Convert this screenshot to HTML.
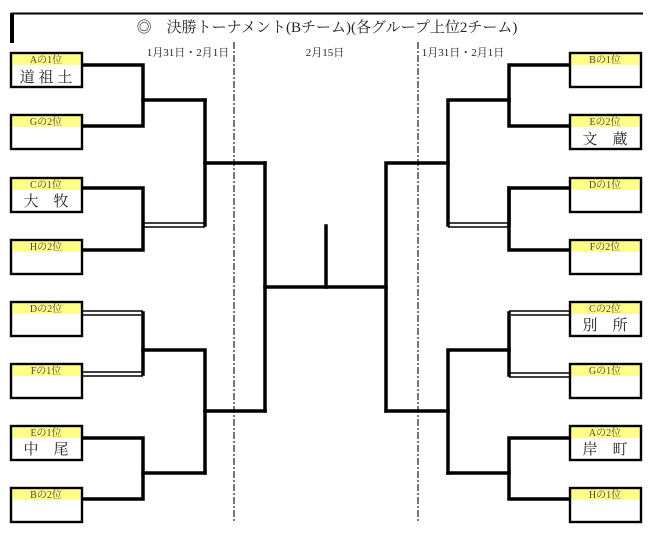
<!DOCTYPE html>
<html><head><meta charset="utf-8"><style>
html,body{margin:0;padding:0;background:#fff;}
svg{display:block;}
text{font-family:"Liberation Serif","Noto Serif CJK SC",serif;}
</style></head><body>
<svg width="653" height="539" viewBox="0 0 653 539" xmlns="http://www.w3.org/2000/svg">
<line x1="11" y1="13.5" x2="643" y2="13.5" stroke="#000" stroke-width="2"/>
<line x1="12" y1="13" x2="12" y2="43" stroke="#000" stroke-width="4"/>
<text x="327" y="32" font-size="15" text-anchor="middle" fill="#222">◎　決勝トーナメント(Bチーム)(各グループ上位2チーム)</text>
<text x="188" y="56" font-size="11" text-anchor="middle" fill="#222">1月31日・2月1日</text>
<text x="325" y="56" font-size="11" text-anchor="middle" fill="#222">2月15日</text>
<text x="463" y="56" font-size="11" text-anchor="middle" fill="#222">1月31日・2月1日</text>
<line x1="234" y1="42" x2="234" y2="521" stroke="#777" stroke-width="2" stroke-dasharray="7,2,2,2"/>
<line x1="418" y1="42" x2="418" y2="521" stroke="#777" stroke-width="2" stroke-dasharray="7,2,2,2"/>
<g stroke="#000" stroke-width="3.5" fill="none" stroke-linecap="square">
<polyline points="82,65 143,65 143,126 82,126"/>
<polyline points="143,100 205,100"/>
<polyline points="82,188 143,188 143,250 82,250"/>
<polyline points="205,100 205,225"/>
<polyline points="205,163 265,163"/>
<polyline points="143,313 143,374"/>
<polyline points="143,350 205,350 205,473"/>
<polyline points="82,438 143,438 143,499 82,499"/>
<polyline points="143,473 205,473"/>
<polyline points="205,411 265,411"/>
<polyline points="265,163 265,411"/>
<polyline points="265,287 386,287"/>
<polyline points="326,226 326,287"/>
<polyline points="570,65 509,65 509,126 570,126"/>
<polyline points="509,100 448,100 448,225"/>
<polyline points="570,188 509,188 509,250 570,250"/>
<polyline points="509,188 509,225"/>
<polyline points="448,163 386,163 386,411"/>
<polyline points="509,313 509,375"/>
<polyline points="509,350 448,350 448,473"/>
<polyline points="570,438 509,438 509,499 570,499"/>
<polyline points="509,473 448,473"/>
<polyline points="448,411 386,411"/>
</g>
<g stroke="#000" stroke-width="1.5">
<line x1="143" y1="223" x2="205" y2="223"/><line x1="143" y1="227" x2="205" y2="227"/>
<line x1="82" y1="311" x2="143" y2="311"/><line x1="82" y1="315" x2="141" y2="315"/>
<line x1="82" y1="372" x2="143" y2="372"/><line x1="82" y1="376" x2="143" y2="376"/>
<line x1="448" y1="223" x2="509" y2="223"/><line x1="448" y1="227" x2="509" y2="227"/>
<line x1="509" y1="311" x2="570" y2="311"/><line x1="511" y1="315" x2="570" y2="315"/>
<line x1="509" y1="373" x2="570" y2="373"/><line x1="509" y1="377" x2="570" y2="377"/>
</g>
<g stroke="#000" stroke-width="2.4">
<rect x="11" y="53" width="71" height="34" fill="#fff"/>
<rect x="11" y="115" width="71" height="34" fill="#fff"/>
<rect x="11" y="178" width="71" height="34" fill="#fff"/>
<rect x="11" y="240" width="71" height="34" fill="#fff"/>
<rect x="11" y="302" width="71" height="34" fill="#fff"/>
<rect x="11" y="364" width="71" height="34" fill="#fff"/>
<rect x="11" y="426" width="71" height="34" fill="#fff"/>
<rect x="11" y="488" width="71" height="34" fill="#fff"/>
<rect x="570" y="53" width="71" height="34" fill="#fff"/>
<rect x="570" y="115" width="71" height="34" fill="#fff"/>
<rect x="570" y="178" width="71" height="34" fill="#fff"/>
<rect x="570" y="240" width="71" height="34" fill="#fff"/>
<rect x="570" y="302" width="71" height="34" fill="#fff"/>
<rect x="570" y="364" width="71" height="34" fill="#fff"/>
<rect x="570" y="426" width="71" height="34" fill="#fff"/>
<rect x="570" y="488" width="71" height="34" fill="#fff"/>
</g>
<g fill="#ffff88">
<rect x="12.5" y="54.5" width="68" height="10.5"/>
<rect x="12.5" y="116.5" width="68" height="10.5"/>
<rect x="12.5" y="179.5" width="68" height="10.5"/>
<rect x="12.5" y="241.5" width="68" height="10.5"/>
<rect x="12.5" y="303.5" width="68" height="10.5"/>
<rect x="12.5" y="365.5" width="68" height="10.5"/>
<rect x="12.5" y="427.5" width="68" height="10.5"/>
<rect x="12.5" y="489.5" width="68" height="10.5"/>
<rect x="571.5" y="54.5" width="68" height="10.5"/>
<rect x="571.5" y="116.5" width="68" height="10.5"/>
<rect x="571.5" y="179.5" width="68" height="10.5"/>
<rect x="571.5" y="241.5" width="68" height="10.5"/>
<rect x="571.5" y="303.5" width="68" height="10.5"/>
<rect x="571.5" y="365.5" width="68" height="10.5"/>
<rect x="571.5" y="427.5" width="68" height="10.5"/>
<rect x="571.5" y="489.5" width="68" height="10.5"/>
</g>
<g font-size="10" fill="#444" text-anchor="middle">
<text x="46" y="63">Aの1位</text>
<text x="46" y="125">Gの2位</text>
<text x="46" y="188">Cの1位</text>
<text x="46" y="250">Hの2位</text>
<text x="46" y="312">Dの2位</text>
<text x="46" y="374">Fの1位</text>
<text x="46" y="436">Eの1位</text>
<text x="46" y="498">Bの2位</text>
<text x="605" y="63">Bの1位</text>
<text x="605" y="125">Eの2位</text>
<text x="605" y="188">Dの1位</text>
<text x="605" y="250">Fの2位</text>
<text x="605" y="312">Cの2位</text>
<text x="605" y="374">Gの1位</text>
<text x="605" y="436">Aの2位</text>
<text x="605" y="498">Hの1位</text>
</g>
<g font-size="15" fill="#222" text-anchor="middle" style="font-family:'Noto Sans CJK JP',sans-serif">
<text x="46" y="82">道 祖 土</text>
<text x="46" y="206">大　牧</text>
<text x="46" y="454">中　尾</text>
<text x="605" y="144">文　蔵</text>
<text x="605" y="330">別　所</text>
<text x="605" y="454">岸　町</text>
</g>
</svg>
</body></html>
